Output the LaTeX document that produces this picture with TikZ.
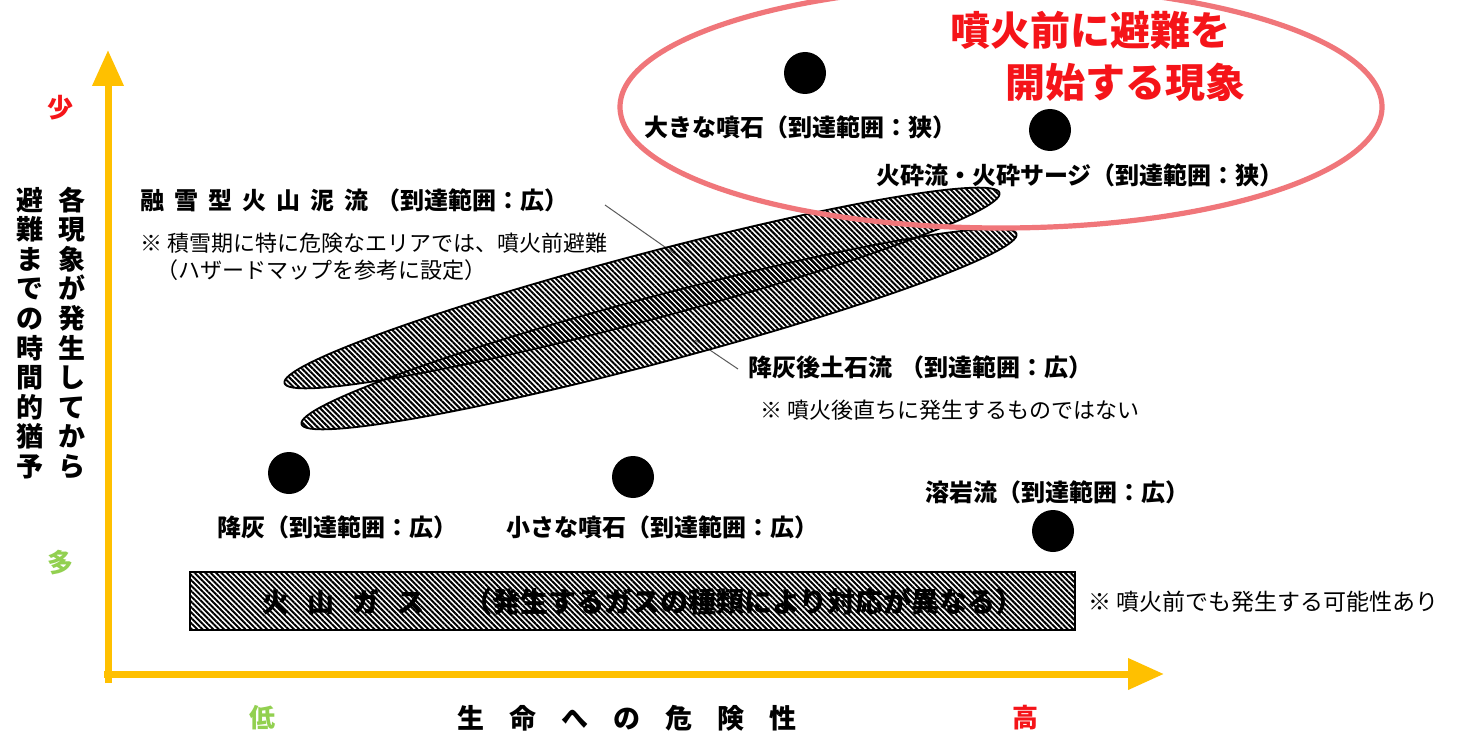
\documentclass[tikz,border=0pt]{standalone}
\usepackage{fontspec}
\newfontfamily\jp{Noto Sans CJK JP}
\usetikzlibrary{shapes.geometric,patterns.meta,arrows.meta}
\definecolor{axisgold}{RGB}{255,192,0}
\definecolor{lowgreen}{RGB}{146,208,80}
\definecolor{titlered}{RGB}{245,20,25}
\definecolor{ringred}{RGB}{240,118,122}
\definecolor{leadergray}{RGB}{90,90,90}
\tikzset{
  lbl/.style={font=\jp\bfseries\fontsize{12}{14}\selectfont, inner sep=0pt},
  note/.style={font=\jp\fontsize{11}{13}\selectfont, inner sep=0pt},
  vtext/.style={font=\jp\bfseries\fontsize{13.5}{14.8}\selectfont, align=center, inner sep=0pt},
  axlbl/.style={font=\jp\bfseries\fontsize{13}{15}\selectfont, inner sep=0pt},
  dot/.style={circle, fill=black, minimum size=21pt, inner sep=0pt},
  hatchpat/.style={pattern={Lines[angle=-45,distance=1.9pt,line width=1pt]}, pattern color=black},
  hatchell/.style={ellipse, draw=black, line width=0.9pt, hatchpat, minimum width=370pt, minimum height=33pt, inner sep=0pt},
  ring/.style={ellipse, draw=ringred, line width=2.6pt, minimum width=381pt, minimum height=121pt, inner sep=0pt},
  axis/.style={draw=axisgold, line width=3.5pt, -{Triangle[length=18pt,width=15pt]}},
  leader/.style={draw=leadergray, line width=0.5pt},
  gasbox/.style={draw=black, line width=0.8pt, hatchpat}
}
\begin{document}
\begin{tikzpicture}[x=0.5pt,y=-0.5pt]
\clip (0,0) rectangle (1479,733);
\fill[white] (0,0) rectangle (1479,733);

% axes
\coordinate (yorig) at (108,683);
\coordinate (ytip) at (108,50);
\coordinate (xorig) at (104,674);
\coordinate (xtip) at (1164,674);
\draw[axis] (yorig) -- (ytip);
\draw[axis] (xorig) -- (xtip);

% axis labels
\node[axlbl, text=titlered] (few) at (60,108) {少};
\node[axlbl, text=lowgreen] (many) at (60,563) {多};
\node[axlbl, text=lowgreen] (low) at (262,718) {低};
\node[axlbl, text=titlered] (high) at (1025,718) {高};
\node[font=\jp\bfseries\fontsize{13.5}{15}\selectfont, inner sep=0pt] (danger) at (627,718)
  {生\hspace{12.5pt}命\hspace{12.5pt}へ\hspace{12.5pt}の\hspace{12.5pt}危\hspace{12.5pt}険\hspace{12.5pt}性};
\node[vtext] (vcol1) at (72,333) {各\\現\\象\\が\\発\\生\\し\\て\\か\\ら};
\node[vtext] (vcol2) at (30,333) {避\\難\\ま\\で\\の\\時\\間\\的\\猶\\予};

% leader lines (drawn under the hatched ellipses)
\coordinate (ld1a) at (605,205);
\coordinate (ld1b) at (692,266);
\coordinate (ld2a) at (695,340);
\coordinate (ld2b) at (738,369);
\draw[leader] (ld1a) -- (ld1b);
\draw[leader] (ld2a) -- (ld2b);

% hatched ellipses
\node[hatchell, rotate=14.9] (mudflow) at (642,288) {};
\node[hatchell, rotate=14.9] (lahar) at (659,329) {};

% gas box
\draw[gasbox] (190,572) rectangle (1075,630);
\node[lbl, font=\jp\bfseries\fontsize{13.5}{15}\selectfont, anchor=west] (gas) at (262,602)
  {火\hspace{9pt}山\hspace{9pt}ガ\hspace{9pt}ス};
\node[lbl, font=\jp\bfseries\fontsize{14}{16}\selectfont, anchor=east] (gasnote) at (1024,602)
  {（発生するガスの種類により対応が異なる）};
\node[note, font=\jp\fontsize{11.5}{13}\selectfont, anchor=west] (gasextra) at (1088,602) {※ 噴火前でも発生する可能性あり};

% red ring
\node[ring] (prevac) at (1001,107) {};
\node[font=\jp\bfseries\fontsize{20}{22}\selectfont, text=titlered, inner sep=0pt] (title1) at (1090,30) {噴火前に避難を};
\node[font=\jp\bfseries\fontsize{20}{22}\selectfont, text=titlered, inner sep=0pt] (title2) at (1125,82) {開始する現象};

% dots
\node[dot] (dbig) at (805,73) {};
\node[dot] (dpyro) at (1050,130) {};
\node[dot] (dash1) at (289,473) {};
\node[dot] (dsmall) at (633,477) {};
\node[dot] (dlava) at (1053,531) {};

% labels
\node[lbl] (lbig) at (800,127) {大きな噴石（到達範囲：狭）};
\node[lbl] (lpyro) at (1080,175) {火砕流・火砕サージ（到達範囲：狭）};
\node[lbl, anchor=west] (lmud) at (140,200)
  {融\hspace{5pt}雪\hspace{5pt}型\hspace{5pt}火\hspace{5pt}山\hspace{5pt}泥\hspace{5pt}流\hspace{4pt}（到達範囲：広）};
\node[note, anchor=west] (lmudn1) at (140,243) {※ 積雪期に特に危険なエリアでは、噴火前避難};
\node[note, anchor=west] (lmudn2) at (156,270) {（ハザードマップを参考に設定）};
\node[lbl, anchor=west] (llahar) at (748,367) {降灰後土石流\hspace{4pt}（到達範囲：広）};
\node[note, anchor=west] (llaharn) at (760,410) {※ 噴火後直ちに発生するものではない};
\node[lbl] (llava) at (1057,492) {溶岩流（到達範囲：広）};
\node[lbl] (lash) at (337,527) {降灰（到達範囲：広）};
\node[lbl] (lsmall) at (662,527) {小さな噴石（到達範囲：広）};
\end{tikzpicture}
\end{document}
